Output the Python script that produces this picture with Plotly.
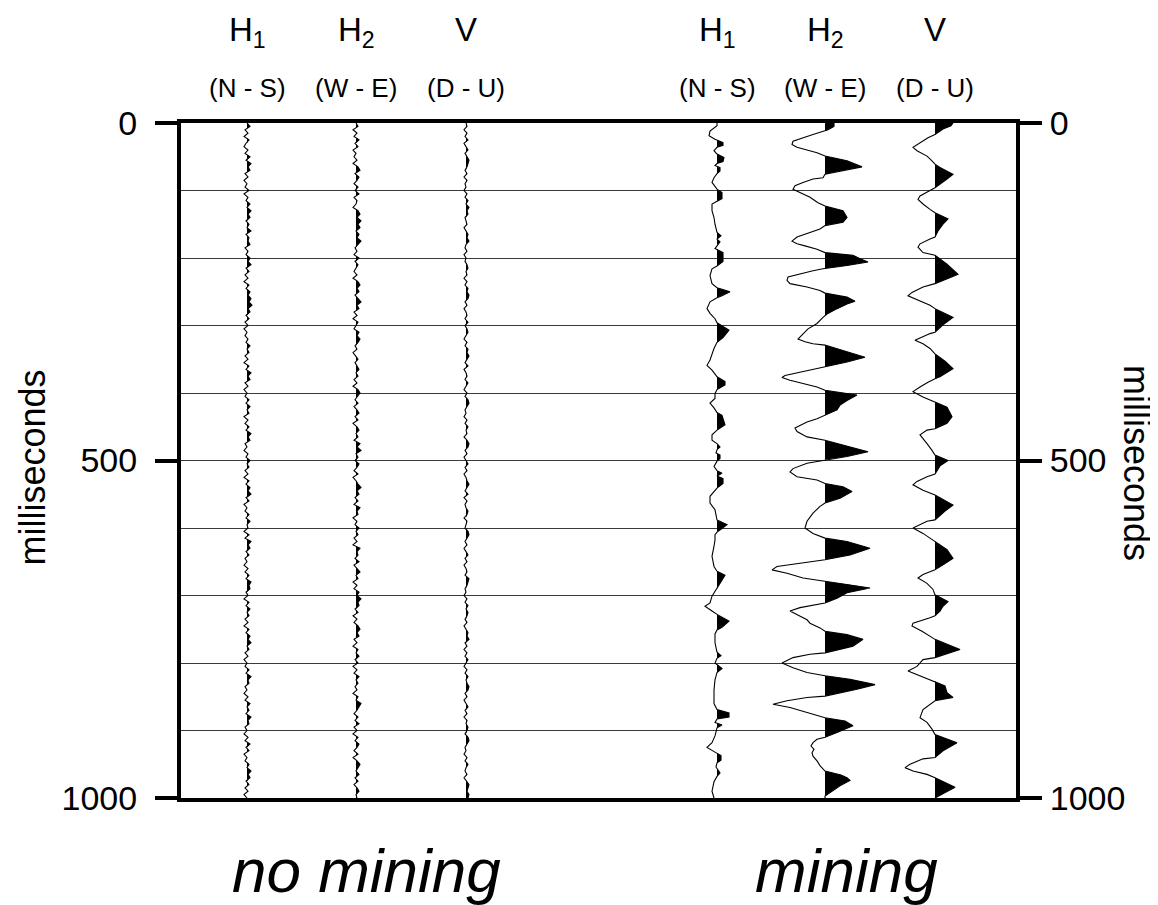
import plotly.graph_objects as go

# ---------------- data (amplitudes in screen-pixel-like units) ----------------
T5 = list(range(0, 1001, 5))  # sample times (ms) of the no-mining traces

nm_h1 = [
    0, 3, -2, 1, -3, 2, -1, -3, 1, -2,
    3, -1, 4, 1, 3, -2, 1, -3, 0, -2,
    2, -3, 1, -1, 3, 0, 4, 1, 3, -1,
    2, 0, 4, -1, 2, 1, 3, -2, 1, -1,
    3, 1, 4, -1, 2, -2, 1, -3, 2, -1,
    3, 1, 4, 2, 5, 1, 3, -1, 2, -2,
    1, -3, 0, -2, 1, -1, 3, 0, 2, -2,
    1, -3, 2, -1, 4, 1, 3, -2, 1, -3,
    0, -2, 2, -1, 3, 0, 2, -3, 1, -2,
    2, -1, 4, 1, 3, -2, 0, -3, 1, -1,
    3, 0, 2, -2, 1, -3, 2, -1, 3, 1,
    4, -1, 2, -3, 0, -2, 2, -1, 3, 0,
    1, -3, 2, -2, 4, 1, 3, -1, 2, -2,
    0, -3, 1, -2, 2, -1, 4, 2, 3, -1,
    1, -3, 2, -1, 3, 0, 2, -2, 1, -3,
    2, -1, 3, 1, 4, 0, 2, -2, 1, -3,
    0, -2, 2, -1, 4, 1, 2, -2, 0, -3,
    1, -2, 3, 0, 2, -1, 4, 1, 2, -2,
    0, -3, 1, -2, 3, -1, 2, -3, 0, -2,
    2, 0, 4, 1, 3, -1, 2, -2, 1, -3,
    0,
]

nm_h2 = [
    0, 2, -3, 1, -2, 3, -1, 2, -3, 0,
    -2, 1, -3, 2, 4, -1, 3, 1, -2, 2,
    -1, 3, -2, 1, 0, -3, 2, 4, 1, 5,
    2, 4, 0, 3, 1, 5, 2, -1, 1, -2,
    3, -1, 2, 0, -2, 1, -3, 2, 4, 1,
    3, -1, 2, 5, 1, 3, -2, 1, -3, 2,
    0, -2, 3, 1, 4, 2, -1, 1, -3, 0,
    2, -1, 1, 3, 0, 2, -2, 1, -3, 2,
    4, 1, -1, 2, -2, 1, 3, -1, 2, -3,
    1, 3, 0, 2, -2, 4, 1, 5, 0, 2,
    -1, 3, 1, -2, 2, -3, 0, 2, 5, 1,
    3, -1, 2, -2, 4, 1, 2, -3, 1, -1,
    3, 0, 2, -2, 1, -3, 4, 1, 2, -1,
    3, -2, 1, 4, 0, 2, -3, 1, -2, 3,
    1, 5, 2, 3, -1, 2, -3, 1, -2, 2,
    4, 1, 3, -2, 1, -3, 2, 0, 3, -1,
    2, -3, 1, -2, 3, 0, 2, -1, 1, -3,
    2, 0, 5, 3, 1, -2, 2, -1, 3, -2,
    1, -3, 2, -1, 3, 1, -2, 2, -3, 1,
    4, 2, 0, 3, -1, 2, -2, 1, 3, 0,
    1,
]

nm_v = [
    0, 1, -2, 1, -1, 2, -2, 0, 2, -1,
    1, 3, 2, 1, -1, 1, -2, 1, -1, 0,
    -2, 1, -1, 2, 0, 3, 1, 2, -1, 0,
    1, -2, 0, 2, 1, 3, 0, -1, 1, -2,
    0, -1, 1, 2, 0, 1, -2, 1, -1, 2,
    1, 3, 2, -1, 1, -2, 0, 1, -1, 2,
    -1, 1, 2, 0, -2, 1, -1, 2, 1, 3,
    1, -1, 2, -2, 0, 1, -1, 2, 0, -2,
    1, -1, 2, 3, 1, -1, 0, -2, 1, -1,
    2, 0, 1, -2, 1, 3, 2, -1, 1, -2,
    0, 2, -1, 1, -2, 0, 1, 3, 1, -1,
    2, -2, 1, -1, 0, 2, 1, -2, 1, 0,
    -1, 2, 3, 1, -1, 1, -2, 0, 2, -1,
    1, -2, 0, 1, -1, 3, 2, 1, -1, 0,
    -2, 1, -1, 2, 0, 2, 1, -1, 1, -2,
    0, 2, 1, 3, -1, 1, -2, 1, -1, 2,
    0, -2, 1, -1, 2, 0, 1, 3, 2, -1,
    1, -2, 0, 2, -1, 1, -2, 1, 0, 2,
    1, -1, 2, 3, 1, -1, 0, -2, 1, -1,
    2, 0, -1, 1, -2, 1, 3, 2, 1, 3,
    2,
]

# mining traces: vertices (time in ms, amplitude)
m_h1_t = [0, 4, 12, 19, 24, 29, 33, 36, 41, 46, 51, 57, 60, 63, 66, 71, 75, 81, 88, 94,
          98, 103, 112, 116, 120, 130, 140, 150, 162, 167, 172, 176, 181, 186, 192, 205, 212, 216, 226, 238,
          244, 250, 256, 259, 265, 275, 282, 290, 296, 307, 318, 325, 334, 342, 351, 359, 366, 374, 376, 383,
          388, 395, 401, 408, 415, 422, 429, 433, 447, 455, 462, 470, 475, 480, 484, 489, 492, 497, 501, 509,
          515, 519, 523, 527, 534, 541, 553, 563, 573, 588, 595, 602, 606, 610, 618, 627, 642, 657, 664, 670,
          680, 690, 701, 711, 716, 723, 728, 738, 747, 751, 757, 770, 784, 789, 793, 800, 808, 814, 825, 840,
          860, 869, 874, 880, 883, 888, 892, 896, 908, 918, 925, 932, 937, 944, 948, 954, 963, 968, 976, 990,
          1000]
m_h1_a = [0, 0, -7, -8, -2, 6, 6, 0, -3, 0, 7, 6, 0, -2, 3, 3, 0, -3, -5, -2,
          0, 5, 5, 0, -5, -5, -3, -2, 0, 4, 0, 3, 0, -2, 6, 6, 0, -5, -7, -5,
          0, 13, 5, 0, -7, -10, -7, -2, 0, 12, 6, 0, -3, -5, -7, -10, -5, -1, 0, 8,
          8, 0, -2, -2, -7, -3, 0, 5, 8, 0, -5, -5, 0, 3, 0, -1, 3, 3, 0, -3,
          0, 5, 0, 6, 6, 0, -7, -7, -2, 0, 10, 4, 0, -2, -2, -3, -5, -3, 0, 8,
          4, 0, -5, -7, -12, -5, 0, 12, 5, 0, -2, -2, 0, 4, 0, -2, 5, 0, -2, -3,
          -3, 0, 12, 12, 0, -2, 5, 0, -2, -5, -10, -2, 4, 4, 0, -1, 3, 0, -3, -5,
          -3]

m_h2_t = [0, 5, 10, 12, 17, 27, 32, 36, 41, 44, 49, 56, 65, 71, 76, 81, 83, 88, 93, 98,
          103, 110, 118, 123, 130, 135, 140, 147, 152, 157, 162, 169, 175, 179, 182, 187, 192, 196, 201, 206,
          211, 214, 216, 219, 224, 228, 233, 238, 243, 248, 252, 258, 264, 268, 275, 283, 288, 297, 305, 312,
          320, 324, 327, 329, 339, 347, 354, 361, 364, 369, 374, 377, 381, 386, 391, 396, 403, 411, 418, 425,
          433, 438, 443, 448, 452, 457, 465, 470, 477, 487, 494, 499, 504, 512, 517, 524, 529, 534, 539, 546,
          556, 563, 568, 578, 584, 590, 600, 608, 615, 620, 630, 640, 647, 652, 657, 662, 667, 674, 679, 684,
          689, 696, 704, 711, 713, 718, 723, 728, 736, 741, 748, 753, 758, 765, 775, 785, 787, 792, 800, 807,
          814, 819, 824, 832, 839, 849, 851, 856, 861, 866, 874, 881, 886, 893, 903, 910, 913, 918, 923, 928,
          933, 938, 945, 952, 960, 966, 970, 974, 982, 989, 997, 1000]
m_h2_a = [9, 9, 3, -2, -12, -32, -33, -28, -15, -8, 0, 22, 37, 15, 0, -2, -12, -22, -30, -32,
          -25, -15, -7, 0, 18, 20, 22, 18, 0, -5, -15, -28, -33, -28, -20, -8, 0, 28, 35, 43,
          22, 5, -2, -12, -25, -37, -38, -35, -18, -5, 0, 22, 30, 22, 12, 2, -2, -8, -17, -22,
          -27, -20, -12, 0, 22, 40, 22, 0, -8, -25, -40, -43, -35, -22, -8, 0, 32, 22, 15, 12,
          0, -8, -18, -25, -30, -28, -18, 0, 18, 43, 22, 0, -18, -32, -35, -28, -8, 0, 18, 27,
          15, 0, -5, -12, -15, -18, -20, -12, 0, 22, 45, 25, 0, -25, -48, -53, -38, -22, 0, 25,
          45, 22, 12, 0, -8, -25, -35, -28, -18, -15, -5, 0, 22, 38, 28, 0, -15, -32, -43, -32,
          -18, 0, 25, 50, 32, 0, -18, -38, -52, -35, -15, 0, 20, 28, 12, 0, -8, -12, -14, -11,
          -13, -12, -8, -5, 0, 16, 22, 25, 15, 8, 0, 0]

m_v_t = [0, 4, 9, 17, 22, 29, 36, 41, 49, 56, 61, 66, 76, 83, 91, 96, 100, 108, 113, 120,
         128, 133, 142, 150, 160, 169, 172, 179, 184, 192, 196, 209, 224, 231, 238, 243, 251, 256, 263, 270,
         275, 288, 299, 310, 312, 322, 327, 334, 342, 353, 364, 376, 379, 384, 391, 398, 406, 413, 421, 435,
         445, 453, 455, 462, 467, 475, 485, 492, 500, 508, 520, 524, 531, 536, 544, 551, 566, 575, 588, 590,
         600, 608, 615, 620, 632, 645, 655, 662, 669, 674, 682, 691, 699, 709, 716, 723, 730, 733, 741, 745,
         753, 760, 765, 780, 792, 795, 805, 812, 819, 827, 834, 844, 851, 856, 861, 869, 881, 888, 898, 906,
         918, 930, 940, 942, 950, 955, 960, 965, 970, 984, 996, 1000]
m_v_a = [18, 16, 8, 0, -7, -15, -22, -18, -8, -3, 0, 5, 18, 12, 5, 0, -5, -15, -17, -12,
         -5, 0, 13, 8, 3, 0, -5, -15, -17, -12, 0, 12, 23, 12, 0, -12, -23, -27, -15, -5,
         0, 18, 8, 0, -5, -20, -12, -5, 0, 10, 18, 5, 0, -7, -15, -22, -12, 0, 12, 17,
         12, 0, -8, -15, -12, -8, -3, 0, 13, 5, 0, -8, -18, -22, -12, 0, 18, 10, 0, -8,
         -22, -12, -5, 0, 12, 18, 8, 0, -12, -17, -8, -2, 0, 13, 8, 5, 0, -5, -22, -23,
         -13, -5, 0, 25, 0, -12, -18, -27, -15, 0, 10, 12, 18, 0, -5, -12, -15, -8, -3, 0,
         22, 8, 0, -12, -25, -30, -22, -8, 0, 20, 5, 0]

headers = ["H<sub>1</sub>", "H<sub>2</sub>", "V"]
subheaders = ["(N - S)", "(W - E)", "(D - U)"]
tick_vals = [0, 500, 1000]

# ---------------- layout constants (screen pixels) ----------------
PAGE_MARGIN = 8                    # default <body> margin of the html page
SW, SH = 1158, 905                 # window size
L, R, TOP, BOT = 181, 1016, 123, 798   # plot area on screen
W, H = SW - PAGE_MARGIN, SH - PAGE_MARGIN

# trace baselines (screen x of each trace's zero line)
BASE_PX = {"nm_h1": 247, "nm_h2": 356, "nm_v": 466, "m_h1": 717, "m_h2": 825, "m_v": 935}
BASE = {k: v - L for k, v in BASE_PX.items()}

traces = [
    ("nm_h1", T5, nm_h1), ("nm_h2", T5, nm_h2), ("nm_v", T5, nm_v),
    ("m_h1", m_h1_t, m_h1_a), ("m_h2", m_h2_t, m_h2_a), ("m_v", m_v_t, m_v_a),
]

FONT = "Arial, 'Liberation Sans', Helvetica, sans-serif"


def positive_part(t, a):
    """Clip a wiggle to its positive lobes (adds zero crossings for a clean fill)."""
    xs, ys = [], []
    for i in range(len(t)):
        if i > 0 and ((a[i - 1] > 0) != (a[i] > 0)) and a[i - 1] != a[i]:
            f = a[i - 1] / (a[i - 1] - a[i])
            xs.append(0)
            ys.append(t[i - 1] + f * (t[i] - t[i - 1]))
        xs.append(max(a[i], 0))
        ys.append(t[i])
    return xs, ys


fig = go.Figure()
for name, t, a in traces:
    b = BASE[name]
    px, py = positive_part(t, a)
    fig.add_trace(go.Scatter(
        x=[b + v for v in px] + [b, b], y=py + [t[-1], t[0]],
        mode="lines", fill="toself", fillcolor="black",
        line=dict(width=0, color="black"), hoverinfo="skip"))
    fig.add_trace(go.Scatter(
        x=[b + v for v in a], y=t, mode="lines",
        line=dict(color="black", width=1.1), hoverinfo="skip"))

# invisible trace to carry the right axis
fig.add_trace(go.Scatter(x=[0], y=[0], yaxis="y2", mode="markers",
                         marker=dict(opacity=0), hoverinfo="skip"))


def pxx(x):
    return (x - L) / (R - L)


def pxy(y):
    return (BOT - y) / (BOT - TOP)


axis_common = dict(
    range=[1000, 0], tickmode="array", tickvals=tick_vals,
    ticks="outside", ticklen=22, tickwidth=4, tickcolor="black",
    showline=True, linewidth=4, linecolor="black", zeroline=False,
    tickfont=dict(family=FONT, size=34, color="black"),
)

fig.update_layout(
    width=W, height=H,
    margin=dict(l=L - PAGE_MARGIN, r=W - (R - PAGE_MARGIN), t=TOP - PAGE_MARGIN,
                b=H - (BOT - PAGE_MARGIN), pad=0, autoexpand=False),
    plot_bgcolor="white", paper_bgcolor="white", showlegend=False,
    xaxis=dict(range=[0, R - L], showgrid=False, zeroline=False, showticklabels=False,
               ticks="", showline=True, linewidth=4, linecolor="black", mirror=True,
               fixedrange=True),
    yaxis=dict(**axis_common, showgrid=False, side="left", ticklabelstandoff=11,
               minor=dict(dtick=100, tick0=0, showgrid=True, gridcolor="#3a3a3a",
                          gridwidth=1, ticks="")),
    yaxis2=dict(**axis_common, showgrid=False, side="right", overlaying="y", anchor="x",
                ticklabelstandoff=1),
)

ann = []
for i, name in enumerate(["nm_h1", "nm_h2", "nm_v", "m_h1", "m_h2", "m_v"]):
    cx = BASE_PX[name]
    ann.append(dict(x=pxx(cx), y=pxy(9), xref="paper", yref="paper", text=headers[i % 3],
                    showarrow=False, xanchor="center", yanchor="top",
                    font=dict(family=FONT, size=33, color="black")))
    ann.append(dict(x=pxx(cx), y=pxy(88), xref="paper", yref="paper", text=subheaders[i % 3],
                    showarrow=False, xanchor="center", yanchor="middle",
                    font=dict(family=FONT, size=26, color="black")))

ann.append(dict(x=pxx(9), y=pxy(468), xref="paper", yref="paper", text="milliseconds",
                textangle=-90, showarrow=False, xanchor="left", yanchor="middle",
                font=dict(family=FONT, size=36, color="black")))
ann.append(dict(x=pxx(1137), y=pxy(463), xref="paper", yref="paper", text="milliseconds",
                textangle=90, showarrow=False, xanchor="center", yanchor="middle",
                font=dict(family=FONT, size=36, color="black")))
ann.append(dict(x=pxx(366), y=pxy(870), xref="paper", yref="paper", text="<i>no mining</i>",
                showarrow=False, xanchor="center", yanchor="middle",
                font=dict(family=FONT, size=62, color="black")))
ann.append(dict(x=pxx(846), y=pxy(870), xref="paper", yref="paper", text="<i>mining</i>",
                showarrow=False, xanchor="center", yanchor="middle",
                font=dict(family=FONT, size=62, color="black")))
fig.update_layout(annotations=ann)

fig.write_html("out.html")
